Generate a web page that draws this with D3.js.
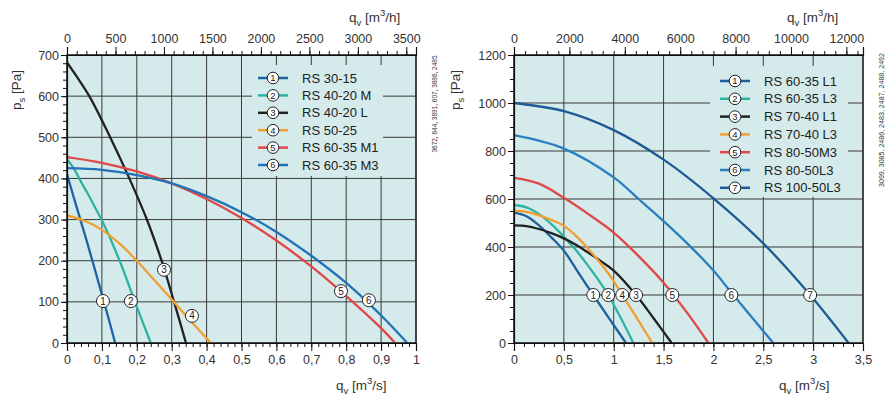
<!DOCTYPE html>
<html>
<head>
<meta charset="utf-8">
<script src="https://cdn.jsdelivr.net/npm/d3@7"></script>
<style>
  body { margin: 0; background: #fff; }
  svg { display: block; font-family: "Liberation Sans", Arial, sans-serif; }
</style>
</head>
<body>
<svg id="chart" width="896" height="403"></svg>
<script>
// ─── Data (q in m3/s, ps in Pa) ───

var leftNames = ['RS 30-15', 'RS 40-20 M', 'RS 40-20 L', 'RS 50-25', 'RS 60-35 M1', 'RS 60-35 M3'];
var leftCurves = [
  [[0, 410], [0.02, 352], [0.04, 295], [0.06, 238], [0.08, 178], [0.1, 118], [0.12, 57], [0.138, 0]],
  [[0, 446], [0.02, 424], [0.04, 392], [0.06, 362], [0.08, 330], [0.1, 298], [0.12, 262], [0.14, 222], [0.16, 180], [0.18, 134], [0.2, 88], [0.22, 44], [0.24, 0]],
  [[0, 682], [0.03, 645], [0.064, 600], [0.121, 505], [0.176, 405], [0.228, 302], [0.271, 200], [0.305, 105], [0.341, 0]],
  [[0, 310], [0.05, 297], [0.1, 275], [0.15, 242], [0.2, 200], [0.25, 153], [0.3, 106], [0.35, 58], [0.412, 0]],
  [[0, 452], [0.1, 438], [0.2, 417], [0.3, 388], [0.4, 350], [0.5, 304], [0.6, 249], [0.7, 186], [0.8, 114], [0.9, 36], [0.94, 0]],
  [[0, 425], [0.1, 421], [0.2, 408], [0.3, 388], [0.4, 357], [0.5, 318], [0.6, 270], [0.7, 212], [0.8, 146], [0.86, 100], [0.92, 50], [0.975, 0]]
];
var leftMarkerQ = [0.103, 0.183, 0.278, 0.358, 0.785, 0.865];
var leftMarkerP = [102, 102, 178, 66, 126, 104];

var rightNames = ['RS 60-35 L1', 'RS 60-35 L3', 'RS 70-40 L1', 'RS 70-40 L3', 'RS 80-50M3', 'RS 80-50L3', 'RS 100-50L3'];
var rightCurves = [
  [[0, 543], [0.125, 528], [0.25, 490], [0.375, 440], [0.5, 385], [0.65, 290], [0.795, 200], [0.95, 105], [1.123, 0]],
  [[0, 575], [0.125, 565], [0.25, 537], [0.375, 495], [0.5, 443], [0.625, 385], [0.75, 318], [0.875, 245], [0.946, 200], [1.07, 105], [1.197, 0]],
  [[0, 490], [0.125, 487], [0.25, 475], [0.375, 458], [0.5, 436], [0.625, 408], [0.75, 375], [0.875, 340], [1.0, 302], [1.224, 200], [1.4, 103], [1.581, 0]],
  [[0, 551], [0.125, 546], [0.25, 532], [0.375, 513], [0.5, 488], [0.625, 445], [0.75, 390], [0.875, 328], [1.0, 258], [1.086, 200], [1.25, 92], [1.387, 0]],
  [[0, 688], [0.25, 664], [0.5, 605], [0.75, 536], [1.0, 460], [1.25, 362], [1.5, 251], [1.75, 118], [1.95, 0]],
  [[0, 866], [0.5, 810], [1.0, 690], [1.25, 600], [1.5, 508], [1.75, 410], [2.0, 302], [2.18, 210], [2.6, 0]],
  [[0, 1000], [0.5, 966], [1.0, 887], [1.5, 764], [2.0, 603], [2.5, 415], [2.97, 200], [3.355, 0]]
];
var rightMarkerQ = [0.795, 0.946, 1.224, 1.086, 1.588, 2.18, 2.97];
var rightMarkerP = [200, 200, 200, 200, 200, 200, 200];

var leftXTicks = [0, 0.1, 0.2, 0.3, 0.4, 0.5, 0.6, 0.7, 0.8, 0.9, 1];
var leftYTicks = [0, 100, 200, 300, 400, 500, 600, 700];
var leftTopTicks = [0, 500, 1000, 1500, 2000, 2500, 3000, 3500];
var rightXTicks = [0, 0.5, 1, 1.5, 2, 2.5, 3, 3.5];
var rightYTicks = [0, 200, 400, 600, 800, 1000, 1200];
var rightTopTicks = [0, 2000, 4000, 6000, 8000, 10000, 12000];

var leftColors = ['#1f62a6', '#2db3a3', '#222222', '#f0a033', '#e04848', '#2272b8'];
var rightColors = ['#1f5fa0', '#2db3a3', '#222222', '#f0a033', '#e04848', '#2a7fc0', '#1d5a96'];

var BG = '#d5eaea', GRID = '#3a3a3a', TXT = '#333';

var svg = d3.select('#chart');

function fmt(d) { return String(d).replace('.', ','); }

function range(a, b, s) {
  var out = [];
  for (var v = a; v <= b + 1e-9; v += s) out.push(+v.toFixed(6));
  return out;
}

function drawPanel(o) {
  var x = d3.scaleLinear().domain([0, o.qMax]).range([o.x0, o.x1]);
  var y = d3.scaleLinear().domain([0, o.pMax]).range([343, 55]);
  var xh = d3.scaleLinear().domain([0, o.qMax * 3600]).range([o.x0, o.x1]);
  var g = svg.append('g');

  g.append('rect').attr('x', o.x0).attr('y', 55).attr('width', o.x1 - o.x0).attr('height', 288).attr('fill', BG);

  // grid
  g.selectAll('.vg').data(o.xTicks).join('line')
    .attr('x1', x).attr('x2', x).attr('y1', 55).attr('y2', 343)
    .attr('stroke', GRID).attr('stroke-width', 1);
  g.selectAll('.hg').data(o.yTicks).join('line')
    .attr('y1', y).attr('y2', y).attr('x1', o.x0).attr('x2', o.x1)
    .attr('stroke', GRID).attr('stroke-width', 1);

  // legend box hides grid
  g.append('rect').attr('x', o.lx).attr('y', o.ly).attr('width', o.lw).attr('height', o.lh).attr('fill', BG);

  var clipId = 'clip' + o.x0;
  svg.append('clipPath').attr('id', clipId).append('rect')
    .attr('x', o.x0).attr('y', 55).attr('width', o.x1 - o.x0).attr('height', 288);

  var line = d3.line().x(function(d) { return x(d[0]); }).y(function(d) { return y(d[1]); }).curve(d3.curveCatmullRom.alpha(0.5));
  g.append('g').attr('clip-path', 'url(#' + clipId + ')')
    .selectAll('path').data(o.curves).join('path')
    .attr('d', line).attr('fill', 'none')
    .attr('stroke', function(d, i) { return o.colors[i]; })
    .attr('stroke-width', 2.3);

  // markers on curves
  o.markerQ.forEach(function(q, i) {
    var cx = x(q), cy = y(o.markerP[i]);
    g.append('circle').attr('cx', cx).attr('cy', cy).attr('r', 6.5).attr('fill', '#fff').attr('stroke', '#222').attr('stroke-width', 1);
    g.append('text').attr('x', cx).attr('y', cy + 3.6).attr('text-anchor', 'middle').attr('font-size', '10px').attr('fill', '#222').text(i + 1);
  });

  // axes
  var bottom = g.append('g').attr('transform', 'translate(0,343)');
  bottom.call(d3.axisBottom(x).tickValues(range(0, o.qMax, o.qMinor)).tickSize(4).tickFormat(''));
  bottom.call(function(s) { s.select('.domain').remove(); });
  var bottomMaj = g.append('g').attr('transform', 'translate(0,343)');
  bottomMaj.call(d3.axisBottom(x).tickValues(o.xTicks).tickSize(8).tickPadding(4).tickFormat(fmt));

  var top = g.append('g').attr('transform', 'translate(0,55)');
  top.call(d3.axisTop(xh).tickValues(range(0, o.qMax * 3600, o.hMinor)).tickSize(4).tickFormat(''));
  top.call(function(s) { s.select('.domain').remove(); });
  var topMaj = g.append('g').attr('transform', 'translate(0,55)');
  topMaj.call(d3.axisTop(xh).tickValues(o.topTicks).tickSize(8).tickPadding(4).tickFormat(function(d) { return d; }));

  var left = g.append('g').attr('transform', 'translate(' + o.x0 + ',0)');
  left.call(d3.axisLeft(y).tickValues(range(0, o.pMax, o.pMinor)).tickSize(4).tickFormat(''));
  left.call(function(s) { s.select('.domain').remove(); });
  var leftMaj = g.append('g').attr('transform', 'translate(' + o.x0 + ',0)');
  leftMaj.call(d3.axisLeft(y).tickValues(o.yTicks).tickSize(6).tickPadding(2).tickFormat(function(d) { return d; }));

  g.selectAll('.domain').attr('stroke', '#111').attr('stroke-width', 1.2);
  g.selectAll('.tick line').attr('stroke', '#111');
  g.selectAll('.tick text').attr('font-size', '12.5px').attr('fill', TXT).attr('font-family', '"Liberation Sans", Arial, sans-serif');

  g.append('rect').attr('x', o.x0).attr('y', 55).attr('width', o.x1 - o.x0).attr('height', 288)
    .attr('fill', 'none').attr('stroke', '#111').attr('stroke-width', 1.2);

  // legend rows
  o.names.forEach(function(n, i) {
    var ry = o.rowY + i * o.rowH;
    g.append('line').attr('x1', o.sx).attr('x2', o.sx + 30).attr('y1', ry).attr('y2', ry).attr('stroke', o.colors[i]).attr('stroke-width', 2.5);
    g.append('circle').attr('cx', o.sx + 15).attr('cy', ry).attr('r', 5.8).attr('fill', '#fff').attr('stroke', '#222').attr('stroke-width', 1);
    g.append('text').attr('x', o.sx + 15).attr('y', ry + 3.4).attr('text-anchor', 'middle').attr('font-size', '9.5px').attr('fill', '#222').text(i + 1);
    g.append('text').attr('x', o.tx).attr('y', ry + 4.6).attr('font-size', '13px').attr('fill', '#222').text(n);
  });

  // axis titles
  axisTitle(g, o.hx, 22, 'v', 'm', '3', '/h]');
  axisTitle(g, o.sTx, 390, 'v', 'm', '3', '/s]');
  var pl = g.append('text').attr('transform', 'translate(' + o.px + ',110) rotate(-90)').attr('font-size', '13.5px').attr('fill', TXT);
  pl.append('tspan').text('p');
  pl.append('tspan').attr('font-size', '9.5px').attr('dy', 4).text('s');
  pl.append('tspan').attr('dy', -4).text(' [Pa]');

  g.append('text').attr('transform', 'translate(' + o.codeX + ',' + o.codeY + ') rotate(-90)')
    .attr('text-anchor', 'middle').attr('font-size', '7.5px').attr('fill', '#333')
    .attr('textLength', o.codeLen).attr('lengthAdjust', 'spacingAndGlyphs').text(o.code);
}

function axisTitle(g, x0, yb, sub, m, sup, rest) {
  var t = g.append('text').attr('x', x0).attr('y', yb).attr('font-size', '13.5px').attr('fill', TXT);
  t.append('tspan').text('q');
  t.append('tspan').attr('font-size', '9.5px').attr('dy', 4).text(sub);
  t.append('tspan').attr('dy', -4).text('  [' + m);
  t.append('tspan').attr('font-size', '9.5px').attr('dy', -6).text(sup);
  t.append('tspan').attr('dy', 6).text(rest);
}

drawPanel({
  x0: 67, x1: 416, qMax: 1, pMax: 700,
  xTicks: leftXTicks, yTicks: leftYTicks, topTicks: leftTopTicks,
  qMinor: 0.02, hMinor: 100, pMinor: 20,
  curves: leftCurves, colors: leftColors, names: leftNames,
  markerQ: leftMarkerQ, markerP: leftMarkerP,
  lx: 252, ly: 65, lw: 131, lh: 111,
  sx: 258, tx: 302, rowY: 78, rowH: 17.4,
  hx: 349, sTx: 336, px: 21,
  code: '3672, 644, 3891, 607, 3886, 2485', codeX: 437, codeY: 104, codeLen: 97
});

drawPanel({
  x0: 514, x1: 863, qMax: 3.5, pMax: 1200,
  xTicks: rightXTicks, yTicks: rightYTicks, topTicks: rightTopTicks,
  qMinor: 0.1, hMinor: 400, pMinor: 50,
  curves: rightCurves, colors: rightColors, names: rightNames,
  markerQ: rightMarkerQ, markerP: rightMarkerP,
  lx: 710, ly: 66, lw: 138, lh: 131,
  sx: 720, tx: 764, rowY: 81, rowH: 17.8,
  hx: 787, sTx: 779, px: 460,
  code: '3099, 3085, 2486, 2483, 2487, 2488, 2492', codeX: 884, codeY: 120, codeLen: 134
});
</script>
</body>
</html>
